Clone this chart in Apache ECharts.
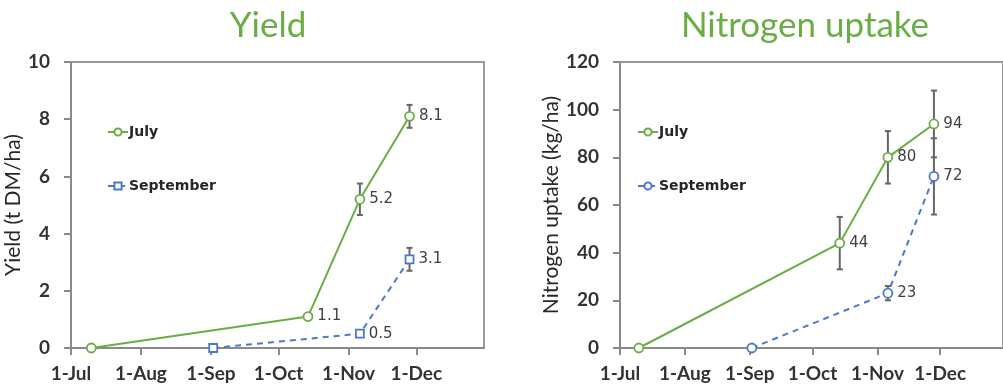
<!DOCTYPE html>
<html><head><meta charset="utf-8">
<script src="https://cdn.jsdelivr.net/npm/echarts@6/dist/echarts.min.js"></script>
<style>html,body{margin:0;padding:0;background:#fff}#c{width:1003px;height:390px}</style>
</head><body><div id="c"></div>
<script>
// ---- data ----
const seasonStart = '2013-07-01';
const seasonEnd = '2013-12-31';
const monthStarts = ['2013-07-01','2013-08-01','2013-09-01','2013-10-01','2013-11-01','2013-12-01'];
const tickLabels = ['1-Jul','1-Aug','1-Sep','1-Oct','1-Nov','1-Dec'];
const seriesNames = ['July','September'];
const julyDates = ['2013-07-10','2013-10-14','2013-11-06','2013-11-28'];
const septDates = ['2013-09-02','2013-11-06','2013-11-28'];
const yieldJuly = [0, 1.1, 5.2, 8.1];
const yieldJulyErr = [0, 0, 0.55, 0.4];
const yieldSept = [0, 0.5, 3.1];
const yieldSeptErr = [0, 0, 0.4];
const nJuly = [0, 44, 80, 94];
const nJulyErr = [0, 11, 11, 14];
const nSept = [0, 23, 72];
const nSeptErr = [0, 3, 16];
const titles = ['Yield', 'Nitrogen uptake'];
const yNames = ['Yield (t DM/ha)', 'Nitrogen uptake (kg/ha)'];

// ---- helpers ----
const day = d => Math.round((Date.parse(d) - Date.parse(seasonStart)) / 86400000);
const tickDays = monthStarts.map(day);
const endDay = day(seasonEnd);
const pts = (dates, vals) => dates.map((d, i) => [day(d), vals[i]]);
const errPts = (dates, vals, errs) => dates.map((d, i) => [day(d), vals[i], errs[i]]);

const GREEN = '#6aad45', BLUE = '#4a78d0';
const FONT = 'Lato, "Liberation Sans", sans-serif';
const WIDE = '"DejaVu Sans", sans-serif';
const txt = '#262626';

function xAxis(gi) {
  return {
    type: 'value', gridIndex: gi, min: 0, max: endDay,
    axisLine: { lineStyle: { color: '#8a8a8a', width: 2 } },
    axisTick: { show: true, length: 7, customValues: tickDays, lineStyle: { color: '#8a8a8a', width: 2 } },
    axisLabel: { customValues: tickDays, margin: 16, fontSize: 19, fontWeight: 'bold', color: '#333', fontFamily: FONT,
      formatter: v => tickLabels[tickDays.indexOf(v)] || '' },
    splitLine: { show: false }
  };
}
function yAxis(gi, max, interval, name, gap) {
  return {
    type: 'value', gridIndex: gi, min: 0, max: max, interval: interval,
    name: name, nameLocation: 'middle', nameGap: gap,
    nameTextStyle: { fontSize: 21, color: txt, fontFamily: FONT },
    axisLine: { show: true, lineStyle: { color: '#8a8a8a', width: 2 } },
    axisTick: { show: true, length: 7, lineStyle: { color: '#8a8a8a', width: 2 } },
    axisLabel: { margin: 21, fontSize: 19, fontWeight: 'bold', color: '#333', fontFamily: FONT },
    splitLine: { show: false }
  };
}
function lineSeries(name, gi, data, color, symbol, dashed, dec) {
  return {
    type: 'line', name: name, xAxisIndex: gi, yAxisIndex: gi, data: data,
    symbol: symbol, symbolSize: symbol === 'rect' ? 8 : 9,
    itemStyle: { color: '#fff', borderColor: color, borderWidth: 1.8 },
    lineStyle: { color: color, width: 2, type: dashed ? [6, 5] : 'solid' },
    label: { show: true, position: 'right', distance: 4, fontSize: 15, color: '#404040', fontFamily: WIDE,
      formatter: p => p.value[1] === 0 ? '' : (dec ? p.value[1].toFixed(1) : String(p.value[1])) },
    z: 5
  };
}
function errSeries(gi, data) {
  return {
    type: 'custom', xAxisIndex: gi, yAxisIndex: gi, data: data, silent: true, z: 3,
    renderItem: (params, api) => {
      const x = api.value(0), v = api.value(1), e = api.value(2);
      if (!e) return null;
      const top = api.coord([x, v + e]), bot = api.coord([x, v - e]);
      const w = 3;
      const st = { stroke: '#666', lineWidth: 2 };
      return { type: 'group', children: [
        { type: 'line', shape: { x1: top[0], y1: top[1], x2: bot[0], y2: bot[1] }, style: st },
        { type: 'line', shape: { x1: top[0] - w, y1: top[1], x2: top[0] + w, y2: top[1] }, style: st },
        { type: 'line', shape: { x1: bot[0] - w, y1: bot[1], x2: bot[0] + w, y2: bot[1] }, style: st }
      ]};
    }
  };
}
function legend(left, names) {
  return {
    orient: 'vertical', left: left, top: 119, itemGap: 38, itemWidth: 20, itemHeight: 9,
    data: names, formatter: n => n.trim(),
    textStyle: { fontSize: 14, fontWeight: 'bold', color: txt, fontFamily: WIDE, lineHeight: 16, padding: [0, 0, 0, -4] }
  };
}

const chart = echarts.init(document.getElementById('c'), null, { renderer: 'canvas' });
chart.setOption({
  animation: false,
  graphic: [
    { type: 'text', x: 268, y: 26, style: { text: titles[0], fill: GREEN, font: '35px ' + FONT, textAlign: 'center', textVerticalAlign: 'middle' } },
    { type: 'text', x: 805, y: 26, style: { text: titles[1], fill: GREEN, font: '35px ' + FONT, textAlign: 'center', textVerticalAlign: 'middle' } }
  ],
  grid: [
    { left: 71, top: 62, bottom: 42, right: 519, show: true, borderColor: '#9a9a9a', borderWidth: 2 },
    { left: 620, top: 62, bottom: 42, right: -13, show: true, borderColor: '#9a9a9a', borderWidth: 2 }
  ],
  legend: [ legend(102, seriesNames), legend(632, seriesNames.map(n => n + ' ')) ],
  xAxis: [ xAxis(0), xAxis(1) ],
  yAxis: [ yAxis(0, 10, 2, yNames[0], 37), yAxis(1, 120, 20, yNames[1], 57) ],
  series: [
    errSeries(0, errPts(julyDates, yieldJuly, yieldJulyErr)),
    errSeries(0, errPts(septDates, yieldSept, yieldSeptErr)),
    lineSeries(seriesNames[0], 0, pts(julyDates, yieldJuly), GREEN, 'circle', false, true),
    lineSeries(seriesNames[1], 0, pts(septDates, yieldSept), BLUE, 'rect', true, true),
    errSeries(1, errPts(julyDates, nJuly, nJulyErr)),
    errSeries(1, errPts(septDates, nSept, nSeptErr)),
    lineSeries(seriesNames[0] + ' ', 1, pts(julyDates, nJuly), GREEN, 'circle', false, false),
    lineSeries(seriesNames[1] + ' ', 1, pts(septDates, nSept), BLUE, 'circle', true, false)
  ]
});
</script></body></html>
